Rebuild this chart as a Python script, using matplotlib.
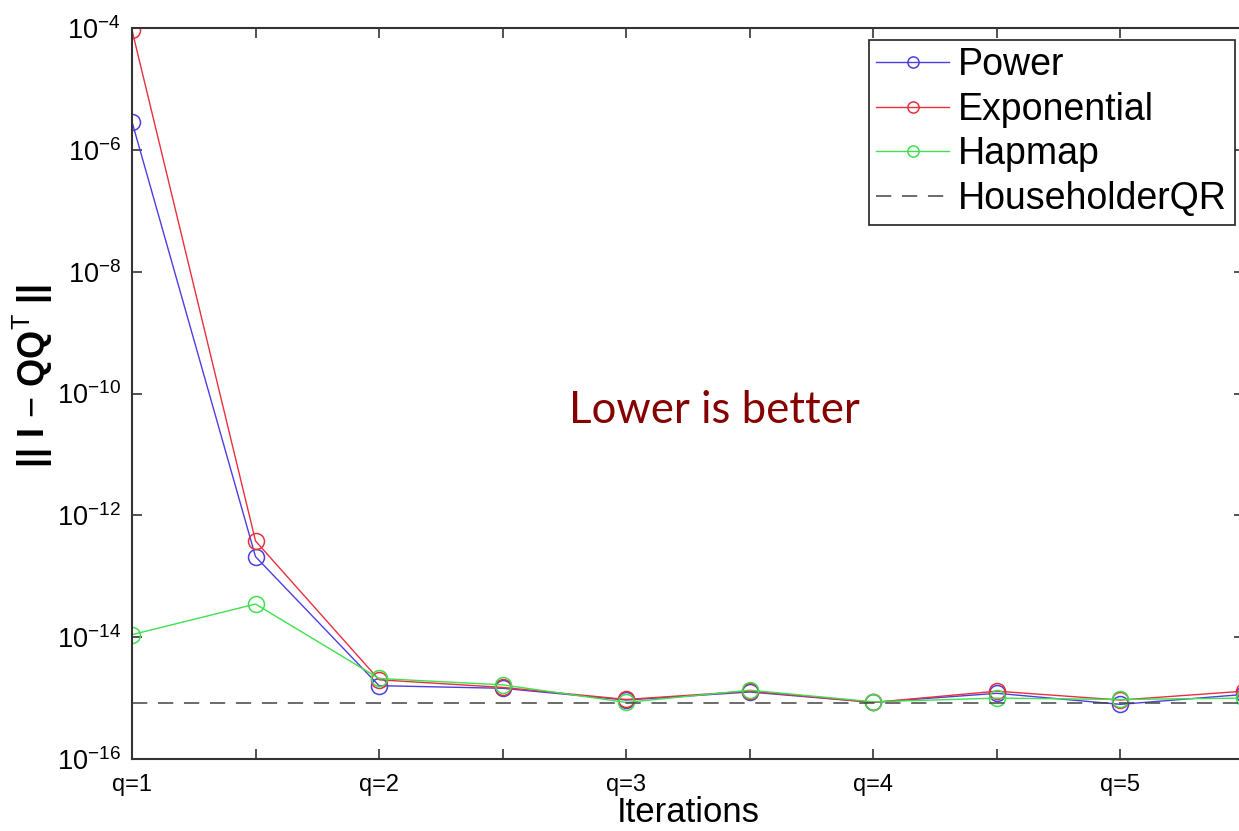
import numpy as np
import matplotlib
matplotlib.use("Agg")
import matplotlib.pyplot as plt

# data
iters = [1, 1.5, 2, 2.5, 3, 3.5, 4, 4.5, 5, 5.5]
tick_labels = ["q=1", "", "q=2", "", "q=3", "", "q=4", "", "q=5", ""]
power = [2.9e-6, 2.1e-13, 1.6e-15, 1.45e-15, 9.3e-16, 1.26e-15, 8.5e-16, 1.2e-15, 7.9e-16, 1.15e-15]
exponential = [9.3e-5, 3.8e-13, 2.0e-15, 1.5e-15, 9.5e-16, 1.3e-15, 8.5e-16, 1.3e-15, 9.3e-16, 1.3e-15]
hapmap = [1.1e-14, 3.5e-14, 2.1e-15, 1.65e-15, 8.5e-16, 1.35e-15, 8.7e-16, 1.0e-15, 9.5e-16, 1.0e-15]
householder = 8.3e-16
yticks = [1e-16, 1e-14, 1e-12, 1e-10, 1e-8, 1e-6, 1e-4]

plt.rcParams['font.family'] = ['Liberation Sans', 'DejaVu Sans']
plt.rcParams['mathtext.fontset'] = 'custom'
plt.rcParams['mathtext.rm'] = 'Liberation Sans'
plt.rcParams['mathtext.it'] = 'Liberation Sans:italic'
plt.rcParams['mathtext.bf'] = 'Liberation Sans:bold'

fig = plt.figure(figsize=(12.39, 8.31), dpi=100)
ax = fig.add_axes([0.1065, 0.0866, 0.8975, 0.8797])

mk = dict(marker='o', markersize=11.5, markerfacecolor='none', linewidth=1.0, markeredgewidth=1.1)
ax.plot(iters, power, color='#4b3fe0', label='Power', **mk)
ax.plot(iters, exponential, color='#e8303c', label='Exponential', **mk)
ax.plot(iters, hapmap, color='#3ee050', label='Hapmap', **mk)
ax.axhline(householder, color='#444444', linestyle=(0, (10, 7)), linewidth=1.1, label='HouseholderQR')

ax.set_yscale('log')
ax.set_ylim(1e-16, 1e-4)
ax.set_xlim(1, 5.5)
ax.set_yticks(yticks)
ax.set_yticklabels([r'$10^{%d}$' % int(np.log10(v)) for v in yticks])
ax.yaxis.set_minor_locator(matplotlib.ticker.NullLocator())
ax.set_xticks(iters)
ax.set_xticklabels(tick_labels)

for s in ax.spines.values():
    s.set_color('#333333')
    s.set_linewidth(1.5)
ax.tick_params(direction='in', top=True, right=True, length=7, width=1.2, color='#333333')
ax.tick_params(axis='y', labelsize=19.5, pad=8)
ax.tick_params(axis='x', labelsize=17, pad=11)

ax.set_xlabel('Iterations', fontsize=25, labelpad=0)
ax.set_ylabel(r'|| I $-$ QQ$^{\mathrm{T}}$ ||', fontsize=26, fontweight='bold')
ax.yaxis.set_label_coords(-0.069, 0.524)

ax.text(0.524, 0.477, 'Lower is better', transform=ax.transAxes, ha='center', va='center',
        fontsize=31.5, color='#860000', family=['Lato', 'DejaVu Sans'])

leg = ax.legend(loc='upper right', bbox_to_anchor=(0.9916, 0.984), fontsize=27,
                frameon=True, fancybox=False, edgecolor='#222222', framealpha=1,
                borderpad=0.2, labelspacing=0.23, handlelength=1.95, handletextpad=0.24,
                borderaxespad=0, markerscale=0.7)
leg.get_frame().set_linewidth(1.2)

fig.savefig('out.png', dpi=100)
